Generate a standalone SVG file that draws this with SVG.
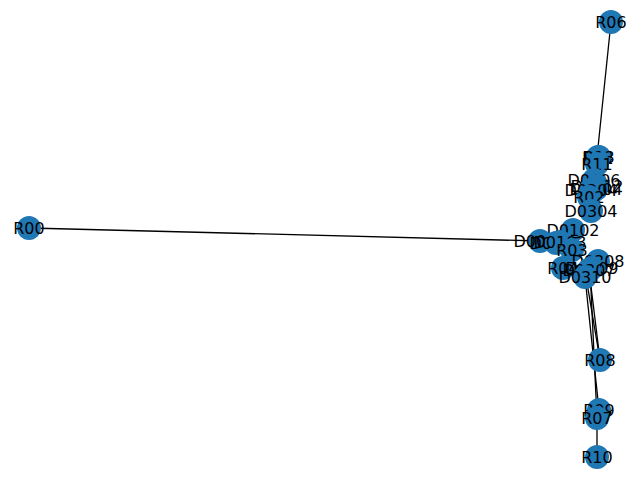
<svg xmlns="http://www.w3.org/2000/svg" width="640" height="480" viewBox="0 0 640 480">
<style>
.n circle{fill:#1f77b4}
.n text{font-family:"DejaVu Sans",sans-serif;font-size:16px;fill:#000;text-anchor:middle;dominant-baseline:central}
.e line{stroke:#000;stroke-width:1.3}
</style>
<rect width="640" height="480" fill="#fff"/>
<g id="edges" class="e">
<line x1="611" y1="22" x2="597" y2="157"/>
<line x1="29" y1="228" x2="540" y2="241"/>
<line x1="586" y1="277" x2="600" y2="360"/>
<line x1="589" y1="270" x2="600" y2="360"/>
<line x1="585" y1="277" x2="599" y2="410"/>
<line x1="590" y1="269" x2="597" y2="418"/>
<line x1="597" y1="418" x2="597" y2="457"/>
</g>
<g id="R06" class="n"><circle cx="611" cy="22" r="12"/><text x="611" y="22">R06</text></g>
<g id="R00" class="n"><circle cx="29" cy="228" r="12"/><text x="29" y="228">R00</text></g>
<g id="R08" class="n"><circle cx="600" cy="360" r="12"/><text x="600" y="360">R08</text></g>
<g id="R09" class="n"><circle cx="599" cy="410" r="12"/><text x="599" y="410">R09</text></g>
<g id="R07" class="n"><circle cx="597" cy="418" r="12"/><text x="597" y="418">R07</text></g>
<g id="R10" class="n"><circle cx="597" cy="457" r="12"/><text x="597" y="457">R10</text></g>
<g id="R14" class="n"><circle cx="598" cy="157" r="12"/><text x="598" y="157">R14</text></g>
<g id="R12" class="n"><circle cx="598" cy="158" r="12"/><text x="598" y="158">R12</text></g>
<g id="R13" class="n"><circle cx="599" cy="157" r="12"/><text x="599" y="157">R13</text></g>
<g id="R11" class="n"><circle cx="597" cy="164" r="12"/><text x="597" y="164">R11</text></g>
<g id="D0406" class="n"><circle cx="594" cy="180" r="12"/><text x="594" y="180">D0406</text></g>
<g id="D0412" class="n"><circle cx="597" cy="186" r="12"/><text x="597" y="186">D0412</text></g>
<g id="D0404" class="n"><circle cx="596" cy="189" r="12"/><text x="596" y="189">D0404</text></g>
<g id="D0204" class="n"><circle cx="591" cy="190" r="12"/><text x="591" y="190">D0204</text></g>
<g id="R02" class="n"><circle cx="589" cy="197" r="12"/><text x="589" y="197">R02</text></g>
<g id="D0304" class="n"><circle cx="591" cy="211" r="12"/><text x="591" y="211">D0304</text></g>
<g id="D0102" class="n"><circle cx="573" cy="230" r="12"/><text x="573" y="230">D0102</text></g>
<g id="D0001" class="n"><circle cx="540" cy="241" r="12"/><text x="540" y="241">D0001</text></g>
<g id="D0105" class="n"><circle cx="556" cy="243" r="12"/><text x="556" y="243">D0105</text></g>
<g id="D0103" class="n"><circle cx="560" cy="242" r="12"/><text x="560" y="242">D0103</text></g>
<g id="R03" class="n"><circle cx="572" cy="250" r="12"/><text x="572" y="250">R03</text></g>
<g id="D0308" class="n"><circle cx="598" cy="261" r="12"/><text x="598" y="261">D0308</text></g>
<g id="R04" class="n"><circle cx="563" cy="268" r="12"/><text x="563" y="268">R04</text></g>
<g id="D0309" class="n"><circle cx="592" cy="268" r="12"/><text x="592" y="268">D0309</text></g>
<g id="D0307" class="n"><circle cx="589" cy="270" r="12"/><text x="589" y="270">D0307</text></g>
<g id="D0310" class="n"><circle cx="585" cy="277" r="12"/><text x="585" y="277">D0310</text></g>
</svg>
